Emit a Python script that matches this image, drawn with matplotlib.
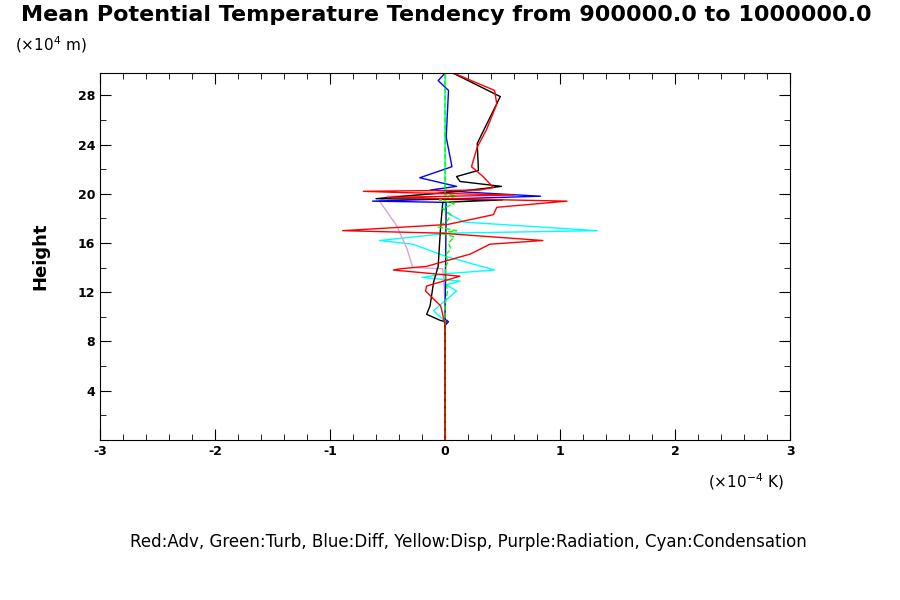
import numpy as np
import matplotlib.pyplot as plt
from matplotlib.ticker import MultipleLocator

plt.rcParams['axes.unicode_minus'] = False

# Height in units of 1e4 m, tendency in units of 1e-4 K
adv_x = [0.09, 0.43, 0.45, 0.36, 0.28, 0.23, 0.33, 0.42, 0.3, -0.71, -0.4, 0.6, -0.5, 1.06, 0.45, 0.42,
         0.02, -0.89, -0.04, 0.85, 0.39, 0.22, -0.16, -0.39, -0.45, 0.13, -0.16, -0.17, -0.04, -0.03, 0.0, 0.0]
adv_h = [29.75, 28.4, 27.3, 25.2, 23.8, 22.2, 21.4, 20.5, 20.3, 20.2, 20.1, 19.9, 19.7, 19.4, 18.9, 18.3,
         17.5, 17.0, 16.8, 16.2, 15.9, 15.1, 14.1, 13.9, 13.8, 13.3, 12.5, 12.1, 10.9, 10.6, 9.3, 0.0]

tot_x = [0.07, 0.48, 0.28, 0.29, 0.10, 0.13, 0.49, 0.13, -0.6, 0.5, -0.02, -0.04, -0.06, -0.10, -0.13,
         -0.16, -0.04, 0.01, 0.0, 0.0]
tot_h = [29.8, 27.9, 24.1, 21.9, 21.4, 21.0, 20.6, 20.2, 19.6, 19.5, 19.3, 17.1, 14.1, 12.8, 10.9,
         10.2, 9.7, 9.6, 9.3, 0.0]

diff_x = [0.0, -0.06, 0.03, 0.01, 0.06, -0.22, 0.1, -0.13, 0.83, -0.63, 0.01, 0.0, 0.03, 0.0, 0.0]
diff_h = [29.8, 29.2, 28.4, 24.6, 22.2, 21.3, 20.6, 20.3, 19.8, 19.4, 19.3, 9.8, 9.6, 9.3, 0.0]

cond_x = [0.0, 0.0, 0.01, 0.16, 1.32, 0.04, -0.57, -0.28, 0.01, 0.43, 0.01, -0.2, 0.13, 0.01, 0.10,
          -0.10, -0.02, 0.0, 0.0]
cond_h = [29.8, 19.0, 18.5, 17.7, 17.0, 16.8, 16.2, 15.9, 14.9, 13.8, 13.5, 13.2, 12.9, 12.6, 12.1,
          10.5, 9.8, 9.5, 0.0]

rad_x = [0.0, -0.5, -0.57, -0.42, -0.33, -0.28, -0.02, 0.0, 0.0]
rad_h = [20.0, 19.8, 19.4, 17.4, 15.5, 14.0, 13.9, 11.4, 0.0]

turb_x = [0.0, 0.0, 0.1, -0.05, 0.08, -0.02, 0.05, 0.02, -0.06, 0.1, -0.04, 0.08, 0.03, 0.05, 0.0,
          0.03, 0.0, 0.02, 0.0, 0.0, 0.0]
turb_h = [29.8, 20.0, 19.8, 19.5, 19.2, 18.8, 18.3, 17.8, 17.3, 17.0, 16.8, 16.5, 16.0, 15.5, 15.0,
          14.5, 14.0, 12.0, 11.0, 9.3, 0.0]

disp_x = [0.0, 0.0]
disp_h = [0.0, 29.8]

fig = plt.figure(figsize=(9, 6), dpi=100)
ax = fig.add_axes([0.111, 0.267, 0.767, 0.611])

ax.plot(disp_x, disp_h, color='yellow', lw=1)
ax.plot(cond_x, cond_h, color='cyan', lw=1)
ax.plot(rad_x, rad_h, color='#dda0dd', lw=1)
ax.plot(diff_x, diff_h, color='blue', lw=1)
ax.plot(tot_x, tot_h, color='black', lw=1)
ax.plot(turb_x, turb_h, color='#00ff00', lw=1, ls='--')
ax.plot(adv_x, adv_h, color='red', lw=1)

ax.set_xlim(-3, 3)
ax.set_ylim(0, 29.8)
ax.set_xticks([-3, -2, -1, 0, 1, 2, 3])
ax.set_yticks([4, 8, 12, 16, 20, 24, 28])
ax.xaxis.set_minor_locator(MultipleLocator(0.2))
ax.yaxis.set_minor_locator(MultipleLocator(2))
ax.tick_params(which='both', direction='in', top=True, right=True, labelsize=9)
ax.tick_params(which='major', length=8)
ax.tick_params(which='minor', length=4)
for lab in ax.get_xticklabels() + ax.get_yticklabels():
    lab.set_fontweight('bold')
ax.set_ylabel('Height', fontsize=13, fontweight='bold', labelpad=20)

fig.text(0.496, 0.975, 'Mean Potential Temperature Tendency from 900000.0 to 1000000.0',
         ha='center', va='center', fontsize=16, fontweight='bold')
fig.text(0.017, 0.925, r'($\times$10$^4$ m)', fontsize=11, va='center')
fig.text(0.787, 0.197, r'($\times$10$^{-4}$ K)', fontsize=11, va='center')
fig.text(0.52, 0.097, 'Red:Adv, Green:Turb, Blue:Diff, Yellow:Disp, Purple:Radiation, Cyan:Condensation',
         ha='center', va='center', fontsize=12)

fig.savefig('out.png')
